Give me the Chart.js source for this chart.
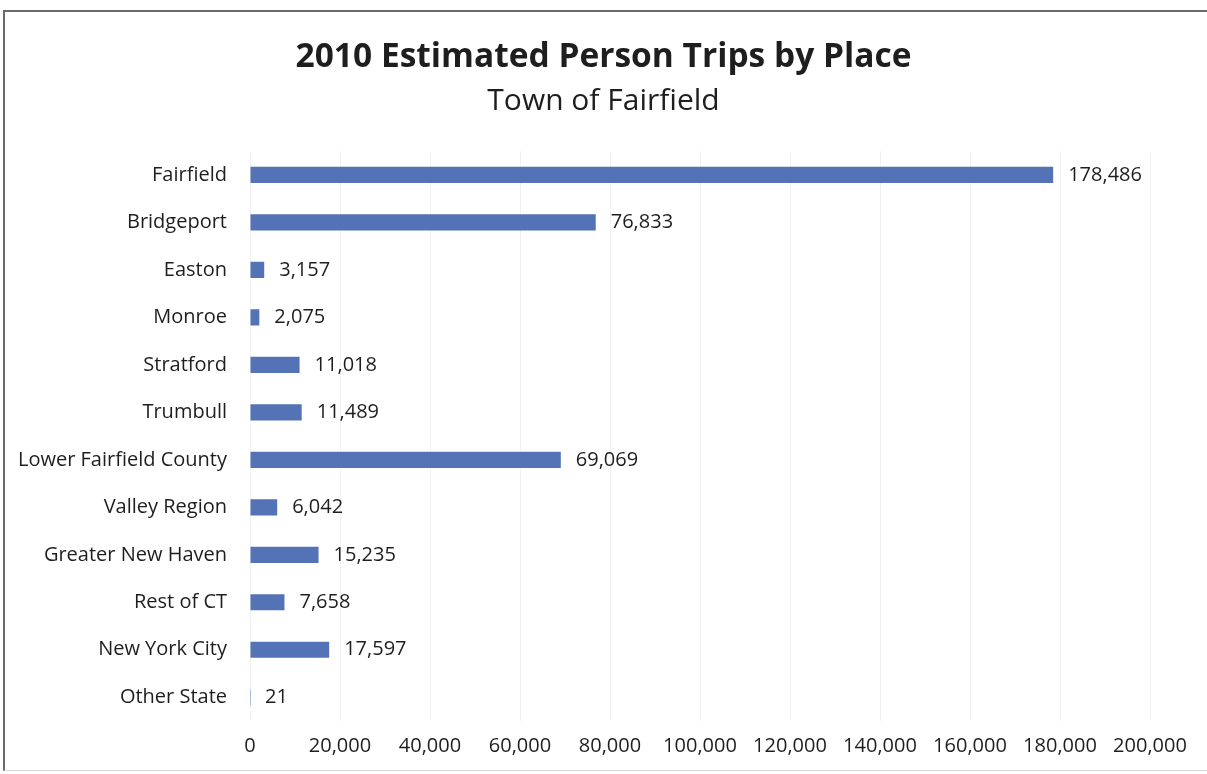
<!DOCTYPE html>
<html>
<head>
<meta charset="utf-8">
<script src="https://cdn.jsdelivr.net/npm/chart.js@4/dist/chart.umd.min.js"></script>
<style>
  html, body { margin: 0; padding: 0; background: #fff; }
  #wrap { position: relative; width: 1207px; height: 774px; }
  #frame {
    position: absolute; left: 3px; top: 10px; width: 1210px; height: 761px;
    border-left: 2px solid #6a6a6a; border-top: 2px solid #6a6a6a;
    border-bottom: 1px solid #d8d8d8; box-sizing: border-box; pointer-events: none;
  }
  canvas { position: absolute; left: 0; top: 0; }
</style>
</head>
<body>
<div id="wrap">
  <canvas id="trips_chart" width="1207" height="774"></canvas>
  <div id="frame"></div>
</div>
<script>
// ---- data
const places = [
  'Fairfield', 'Bridgeport', 'Easton', 'Monroe', 'Stratford', 'Trumbull',
  'Lower Fairfield County', 'Valley Region', 'Greater New Haven', 'Rest of CT',
  'New York City', 'Other State'
];
const trips = [178486, 76833, 3157, 2075, 11018, 11489, 69069, 6042, 15235, 7658, 17597, 21];
const xTicks = [0, 20000, 40000, 60000, 80000, 100000, 120000, 140000, 160000, 180000, 200000];

const chartTitle    = '2010 Estimated Person Trips by Place';
const chartSubtitle = 'Town of Fairfield';

// ---- styles
const fontFamily = '"Open Sans", Lato, sans-serif';
const barColor   = '#5373b6';
const textColor  = '#1e1e1e';
const labelSize  = 20;

const fmt = v => v.toLocaleString('en-US');

// value labels at the end of each bar
const barValueLabels = {
  id: 'barValueLabels',
  afterDatasetsDraw(chart) {
    const ctx = chart.ctx;
    const meta = chart.getDatasetMeta(0);
    ctx.save();
    ctx.font = labelSize + 'px ' + fontFamily;
    ctx.fillStyle = textColor;
    ctx.textAlign = 'left';
    ctx.textBaseline = 'middle';
    meta.data.forEach((bar, i) => {
      ctx.fillText(fmt(trips[i]), bar.x + 15, bar.y);
    });
    ctx.restore();
  }
};

const ctx = document.getElementById('trips_chart').getContext('2d');
new Chart(ctx, {
  type: 'bar',
  data: {
    labels: places,
    datasets: [{
      data: trips,
      backgroundColor: barColor,
      borderWidth: 0,
      barPercentage: 0.5,
      categoryPercentage: 0.68
    }]
  },
  options: {
    indexAxis: 'y',
    responsive: false,
    animation: false,
    layout: { padding: 0 },
    plugins: {
      legend: { display: false },
      tooltip: { enabled: false },
      title: {
        display: true,
        text: chartTitle,
        color: textColor,
        font: { family: fontFamily, size: 33.5, weight: 'bold', lineHeight: 1.2 },
        padding: { top: 37, bottom: 6 }
      },
      subtitle: {
        display: true,
        text: chartSubtitle,
        color: textColor,
        font: { family: fontFamily, size: 30, lineHeight: 1.2 },
        padding: { top: 0, bottom: 32 }
      }
    },
    scales: {
      x: {
        min: 0,
        max: 200000,
        afterBuildTicks: scale => { scale.ticks = xTicks.map(v => ({ value: v })); },
        afterFit: scale => { scale.height = 53; },
        ticks: {
          color: textColor,
          padding: 13,
          maxRotation: 0,
          font: { family: fontFamily, size: labelSize },
          callback: v => fmt(v)
        },
        grid: { color: '#f1f1f1', drawTicks: false },
        border: { display: false }
      },
      y: {
        afterFit: scale => { scale.width = 250; },
        ticks: {
          color: textColor,
          padding: 23,
          font: { family: fontFamily, size: labelSize }
        },
        grid: { display: false, drawTicks: false },
        border: { display: false }
      },
      // empty right-hand gutter so the plot ends at 200,000 with room for its label
      gutter: {
        type: 'linear',
        axis: 'y',
        position: 'right',
        afterFit: scale => { scale.width = 57; },
        ticks: { display: false },
        grid: { display: false, drawTicks: false },
        border: { display: false }
      }
    }
  },
  plugins: [barValueLabels]
});
</script>
</body>
</html>
